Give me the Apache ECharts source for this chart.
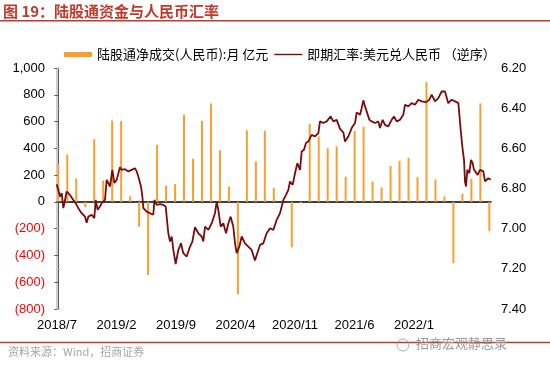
<!DOCTYPE html>
<html><head><meta charset="utf-8">
<script src="https://cdn.jsdelivr.net/npm/echarts@6/dist/echarts.min.js"></script>
<style>html,body{margin:0;padding:0;background:#fff}#c{width:550px;height:367px}</style>
</head><body><div id="c"></div>
<script>
// ---- data ----
const barMonths = ['2018/7','2018/8','2018/9','2018/10','2018/11','2018/12','2019/1','2019/2','2019/3','2019/4','2019/5','2019/6','2019/7','2019/8','2019/9','2019/10','2019/11','2019/12','2020/1','2020/2','2020/3','2020/4','2020/5','2020/6','2020/7','2020/8','2020/9','2020/10','2020/11','2020/12','2021/1','2021/2','2021/3','2021/4','2021/5','2021/6','2021/7','2021/8','2021/9','2021/10','2021/11','2021/12','2022/1','2022/2','2022/3','2022/4','2022/5','2022/6','2022/7'];
const barValues = [284,354,175,-40,469,160,608,603,42,-185,-546,426,120,132,651,322,606,735,386,115,-690,533,302,531,105,10,-339,-8,583,489,401,414,187,529,561,152,107,269,307,329,185,895,167,40,-459,60,172,735,-217];
// month position (0 = end of 2018/7) and spot USD/CNY
const lineMonthPos = [-0.18,0.00,0.19,0.38,0.56,0.75,0.93,1.12,1.30,1.49,1.67,1.93,2.23,2.60,2.97,3.16,3.35,3.53,3.72,4.01,4.16,4.38,4.64,4.83,5.20,5.39,5.57,5.76,6.02,6.24,6.50,6.69,6.87,7.06,7.24,7.43,7.80,8.17,8.54,8.73,8.91,9.21,9.36,9.47,9.84,10.21,10.58,10.70,10.95,11.33,11.70,11.96,12.25,12.44,12.63,12.81,13.07,13.37,13.66,13.92,14.30,14.67,14.93,15.22,15.60,15.78,15.97,16.15,16.34,16.71,17.08,17.45,17.64,17.82,18.08,18.38,18.68,18.94,19.19,19.49,19.68,19.86,20.16,20.42,20.79,21.16,21.53,21.90,22.16,22.46,22.83,23.20,23.58,23.95,24.32,24.69,25.06,25.36,25.62,25.80,26.10,26.36,26.62,26.92,27.10,27.36,27.58,27.84,28.21,28.59,28.96,29.14,29.51,29.89,30.33,30.63,31.00,31.37,31.74,31.93,32.30,32.67,33.04,33.23,33.60,33.78,33.97,34.15,34.34,34.64,34.90,35.27,35.64,35.82,36.12,36.38,36.75,37.12,37.38,37.68,38.05,38.42,38.61,38.98,39.35,39.72,40.09,40.46,40.95,41.32,41.58,41.95,42.32,42.69,43.06,43.43,43.80,44.18,44.55,44.81,45.03,45.18,45.29,45.40,45.55,45.77,45.96,46.14,46.29,46.51,46.70,46.96,47.33,47.52,47.89,48.15];
const lineRate = [6.779,6.807,6.840,6.823,6.898,6.857,6.815,6.807,6.832,6.823,6.857,6.873,6.898,6.923,6.940,6.970,6.940,6.948,6.931,6.948,6.857,6.906,6.890,6.873,6.857,6.757,6.765,6.790,6.707,6.773,6.757,6.765,6.694,6.707,6.715,6.704,6.715,6.707,6.699,6.715,6.740,6.790,6.840,6.898,6.915,6.923,6.931,6.857,6.882,6.878,6.882,6.890,7.023,7.064,7.039,7.106,7.176,7.106,7.073,7.122,7.139,7.089,7.064,6.993,7.023,7.031,7.039,7.064,6.990,7.006,6.973,6.923,6.865,6.906,6.990,6.973,7.023,6.973,6.940,6.990,7.073,7.122,7.089,7.039,7.073,7.089,7.106,7.159,7.122,7.081,7.073,7.023,6.998,7.006,6.956,6.923,6.857,6.832,6.807,6.765,6.782,6.724,6.674,6.707,6.616,6.607,6.574,6.566,6.533,6.541,6.524,6.466,6.474,6.466,6.441,6.466,6.458,6.503,6.520,6.566,6.541,6.499,6.474,6.421,6.433,6.400,6.361,6.391,6.416,6.458,6.466,6.474,6.466,6.499,6.458,6.483,6.491,6.458,6.441,6.466,6.458,6.433,6.383,6.391,6.375,6.383,6.358,6.366,6.370,6.358,6.333,6.366,6.350,6.317,6.317,6.375,6.358,6.366,6.375,6.508,6.607,6.657,6.765,6.790,6.707,6.724,6.657,6.674,6.707,6.699,6.732,6.707,6.715,6.765,6.749,6.757];
const xTickLabels = ['2018/7','2019/2','2019/9','2020/4','2020/11','2021/6','2022/1'];
const seriesBarName = '陆股通净成交(人民币):月 亿元';
const seriesLineName = '即期汇率:美元兑人民币 （逆序）';
const titleText = '图 19：陆股通资金与人民币汇率';
const sourceText = '资料来源：Wind，招商证券';
const markText = '招商宏观静思录';

// ---- chart ----
const chart = echarts.init(document.getElementById('c'), null, {renderer: 'canvas'});
const barData = barValues.map((v, i) => ({name: barMonths[i], value: [i, v]}));
const lineData = lineMonthPos.map((m, i) => [m, lineRate[i]]);
const fmtThousands = n => String(n).replace(/\B(?=(\d{3})+(?!\d))/g, ',');
const NUM_FONT = '"Liberation Sans", Arial, sans-serif';
const CJK_FONT = '"Noto Sans CJK SC", sans-serif';
const RED = '#C0392B';
const LINE_COLOR = '#7B0C0C';

const option = {
  animation: false,
  textStyle: {fontFamily: NUM_FONT},
  grid: {left: 57, right: 59, top: 68, bottom: 58, containLabel: false},
  legend: {
    left: 59, top: 43, itemWidth: 28, itemHeight: 5, itemGap: 6, symbolKeepAspect: true,
    textStyle: {fontFamily: CJK_FONT, fontSize: 13, color: '#000'},
    data: [
      {name: seriesBarName, icon: 'rect'},
      {name: seriesLineName, icon: 'path://M0 0H140V7H0Z'}
    ]
  },
  xAxis: [
    {
      type: 'value', min: -0.145, max: 48.185, position: 'bottom',
      axisLine: {show: true, onZero: true, onZeroAxisIndex: 0, lineStyle: {color: '#000', width: 1.5}},
      axisTick: {show: false}, axisLabel: {show: false}, splitLine: {show: false}
    },
    {
      type: 'value', min: 0, max: 7.294, interval: 1, position: 'bottom',
      axisLine: {show: false, onZero: false}, axisTick: {show: false}, splitLine: {show: false},
      axisLabel: {
        fontSize: 13, color: '#000', margin: 10, showMaxLabel: false, showMinLabel: true,
        alignMinLabel: 'center', alignMaxLabel: 'center', hideOverlap: false,
        formatter: v => (Math.abs(v - Math.round(v)) < 1e-6 && Math.round(v) < xTickLabels.length) ? xTickLabels[Math.round(v)] : ''
      }
    }
  ],
  yAxis: [
    {
      type: 'value', position: 'left', min: -800, max: 1000, interval: 200,
      axisLine: {show: true, lineStyle: {color: '#595959', width: 1}},
      axisTick: {show: true, inside: false, length: 4, lineStyle: {color: '#595959'}},
      splitLine: {show: false},
      axisLabel: {
        fontSize: 13, margin: 12,
        color: v => parseFloat(v) < 0 ? '#FF0000' : '#000',
        formatter: v => v < 0 ? '(' + fmtThousands(Math.abs(v)) + ')' : fmtThousands(v)
      }
    },
    {
      type: 'value', position: 'right', min: 6.2, max: 7.4, interval: 0.2, inverse: true,
      axisLine: {show: true, lineStyle: {color: '#BFBFBF', width: 1.5}},
      axisTick: {show: true, inside: false, length: 3, lineStyle: {color: '#BFBFBF'}},
      splitLine: {show: false},
      axisLabel: {fontSize: 13, color: '#000', margin: 10, formatter: v => Number(v).toFixed(2)}
    }
  ],
  series: [
    {
      name: seriesBarName, type: 'bar', xAxisIndex: 0, yAxisIndex: 0,
      barWidth: 2, itemStyle: {color: '#F7A030'}, data: barData, z: 2
    },
    {
      name: seriesLineName, type: 'line', xAxisIndex: 0, yAxisIndex: 1,
      symbol: 'none', lineStyle: {color: LINE_COLOR, width: 1.8}, itemStyle: {color: LINE_COLOR},
      data: lineData, z: 3
    }
  ],
  graphic: [
    {type: 'text', left: 3, top: 4, style: {text: titleText, fill: RED, font: 'bold 15px ' + CJK_FONT}},
    {type: 'line', shape: {x1: 0, y1: 20.7, x2: 550, y2: 20.7}, style: {stroke: RED, lineWidth: 1.5}},
    {type: 'line', shape: {x1: 0, y1: 342.5, x2: 550, y2: 342.5}, style: {stroke: RED, lineWidth: 1.5}},
    {type: 'text', left: 8, top: 346, style: {text: sourceText, fill: '#A6A6A6', font: '11px ' + CJK_FONT}},
    {type: 'circle', shape: {cx: 403, cy: 345, r: 6}, style: {fill: 'none', stroke: '#AAAAAA', lineWidth: 1}},
    {type: 'text', left: 416, top: 337, style: {text: markText, fill: '#9A9A9A', font: '13px ' + CJK_FONT}}
  ]
};
chart.setOption(option);
</script>
</body></html>
